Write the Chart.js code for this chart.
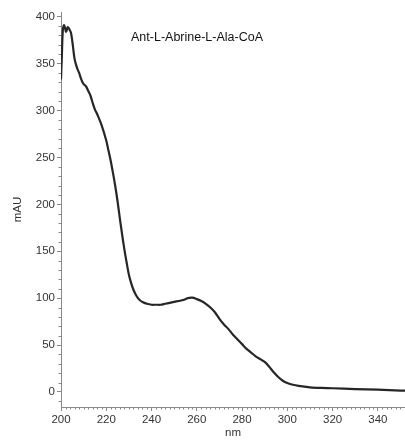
<!DOCTYPE html>
<html>
<head>
<meta charset="utf-8">
<script src="https://cdn.jsdelivr.net/npm/chart.js@4/dist/chart.umd.min.js"></script>
<style>
html,body{margin:0;padding:0;background:#fff;}
#wrap{width:405px;height:440px;}
</style>
</head>
<body>
<div id="wrap"><canvas id="c" width="405" height="440"></canvas></div>
<script>
const wavelengths = [200, 200.4, 200.8, 201.3, 201.8, 202.2, 202.6, 203, 203.6, 204.4, 205.2, 206, 207, 208, 209, 210, 211, 212, 213, 214, 215, 216, 218, 220, 221, 222, 223, 224, 225, 226, 227, 228, 229, 230, 231, 232, 233, 234, 235, 236, 238, 240, 242, 244, 246, 248, 250, 252, 254, 256, 258, 260, 262, 264, 266, 268, 270, 272, 274, 276, 278, 280, 282, 284, 286, 288, 290, 292, 294, 296, 298, 300, 302, 305, 310, 315, 320, 330, 340, 350, 352];
const absorbance = [333, 360, 385, 391, 388, 384, 386, 389, 387, 383, 370, 355, 346, 340, 333, 328, 326, 321, 316, 308, 301, 296, 284, 268, 257, 246, 233, 219, 203, 185, 168, 152, 138, 125, 116, 109, 104, 100, 97.5, 96, 94, 93, 93, 93, 94, 95, 96, 97, 98, 100, 100.5, 99, 97, 94, 90, 85, 78, 72, 67, 61, 56, 51, 46, 42, 38, 35, 32, 27, 21, 16, 12, 9.5, 8, 6.5, 5, 4.3, 4, 3, 2.5, 1.5, 1.5];
const xTickValues = [200, 220, 240, 260, 280, 300, 320, 340];
const yTickValues = [0, 50, 100, 150, 200, 250, 300, 350, 400];
const seriesLabel = 'Ant-L-Abrine-L-Ala-CoA';
const xTitle = 'nm';
const yTitle = 'mAU';

const points = wavelengths.map((w, i) => ({x: w, y: absorbance[i]}));
const FONT = "'Liberation Sans', Arial, sans-serif";
const AXIS = '#8a8a8a';
const TXT = '#333333';

const minorTicks = {
  id: 'minorTicks',
  afterDraw(chart) {
    const ctx = chart.ctx;
    const xs = chart.scales.x, ys = chart.scales.y;
    ctx.save();
    ctx.strokeStyle = AXIS;
    ctx.lineWidth = 1;
    ctx.beginPath();
    for (let v = 202; v <= xs.max; v += 2) {
      if (v % 20 === 0) continue;
      const px = Math.round(xs.getPixelForValue(v)) + 0.5;
      ctx.moveTo(px, ys.bottom);
      ctx.lineTo(px, ys.bottom + 2.5);
    }
    for (let v = -10; v <= ys.max; v += 10) {
      if (v % 50 === 0) continue;
      const py = Math.round(ys.getPixelForValue(v)) + 0.5;
      ctx.moveTo(xs.left, py);
      ctx.lineTo(xs.left - 2.5, py);
    }
    ctx.stroke();
    ctx.fillStyle = '#111';
    ctx.font = '12.5px ' + FONT;
    ctx.textAlign = 'center';
    ctx.textBaseline = 'middle';
    ctx.fillText(seriesLabel, xs.left + 136, ys.top + 26);
    ctx.restore();
  }
};

new Chart(document.getElementById('c'), {
  type: 'line',
  data: {
    datasets: [{
      label: seriesLabel,
      data: points,
      borderColor: '#262626',
      borderWidth: 2.2,
      pointRadius: 0,
      tension: 0.3,
      fill: false
    }]
  },
  options: {
    responsive: false,
    animation: false,
    devicePixelRatio: 1,
    layout: {padding: {top: 12, right: 0, left: 11, bottom: 0}},
    plugins: {legend: {display: false}, tooltip: {enabled: false}},
    scales: {
      x: {
        type: 'linear',
        min: 200, max: 352,
        afterBuildTicks: s => { s.ticks = xTickValues.map(v => ({value: v})); },
        afterFit: s => { s.height = 33; },
        border: {color: AXIS, width: 1},
        grid: {display: true, drawOnChartArea: false, drawTicks: true, tickLength: 4, color: AXIS},
        ticks: {color: TXT, font: {family: FONT, size: 11.5}, padding: 2, maxRotation: 0},
        title: {display: true, text: xTitle, color: TXT, font: {family: FONT, size: 11.5}, padding: {top: 0, bottom: 0}}
      },
      y: {
        type: 'linear',
        min: -16, max: 405,
        afterBuildTicks: s => { s.ticks = yTickValues.map(v => ({value: v})); },
        afterFit: s => { s.width = 50; },
        border: {color: AXIS, width: 1},
        grid: {display: true, drawOnChartArea: false, drawTicks: true, tickLength: 4, color: AXIS},
        ticks: {color: TXT, font: {family: FONT, size: 11.5}, padding: 2},
        title: {display: true, text: yTitle, color: TXT, font: {family: FONT, size: 11.5}, padding: {top: 0, bottom: 6}}
      }
    }
  },
  plugins: [minorTicks]
});
</script>
</body>
</html>
